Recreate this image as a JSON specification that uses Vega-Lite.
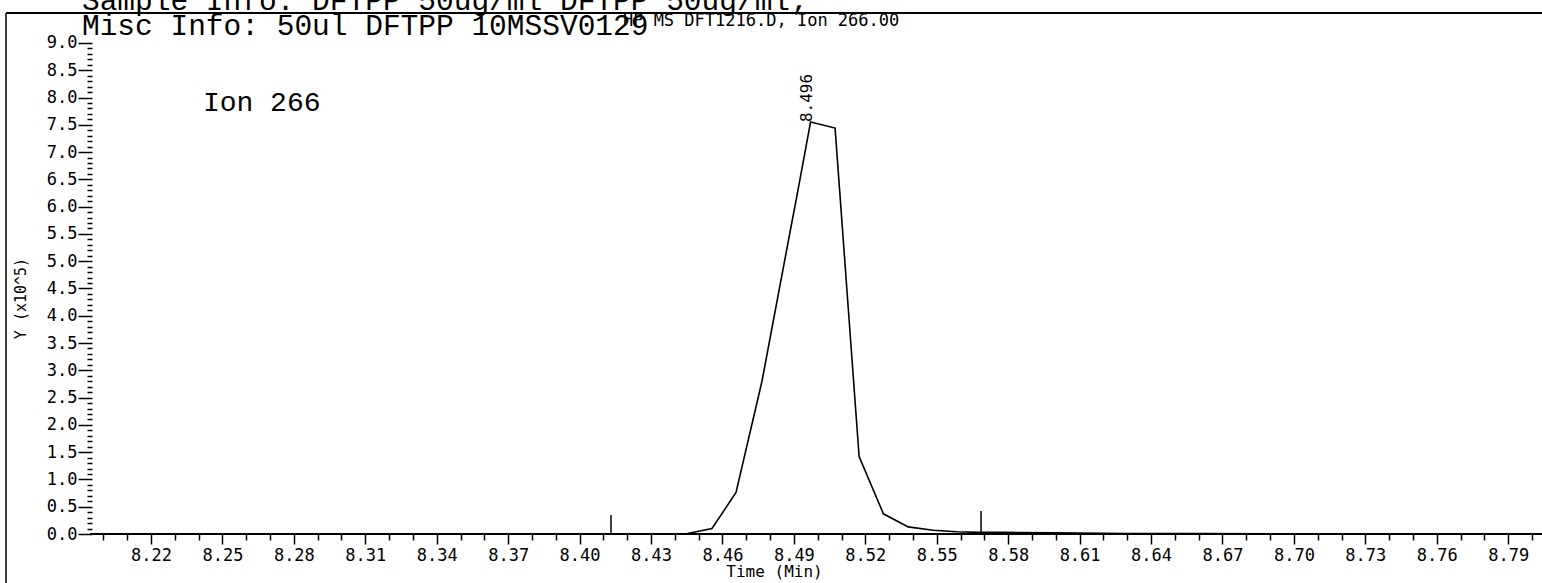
{
  "$schema": "https://vega.github.io/schema/vega-lite/v6.json",
  "width": 1536,
  "height": 570,
  "padding": {"left": 6, "top": 13, "right": 0, "bottom": 0},
  "autosize": {"type": "none"},
  "background": "white",
  "config": {"view": {"stroke": null}, "font": "DejaVu Sans Mono"},
  "datasets": {
    "trace": [
      {"time": 8.197, "abundance": 0.0},
      {"time": 8.228, "abundance": 0.0},
      {"time": 8.259, "abundance": 0.0},
      {"time": 8.290, "abundance": 0.0},
      {"time": 8.321, "abundance": 0.0},
      {"time": 8.352, "abundance": 0.0},
      {"time": 8.383, "abundance": 0.0},
      {"time": 8.404, "abundance": 0.0},
      {"time": 8.4246, "abundance": 0.0},
      {"time": 8.4349, "abundance": 0.0},
      {"time": 8.4453, "abundance": 0.01},
      {"time": 8.4556, "abundance": 0.1},
      {"time": 8.4657, "abundance": 0.76},
      {"time": 8.4766, "abundance": 2.8},
      {"time": 8.4884, "abundance": 5.54},
      {"time": 8.4912, "abundance": 6.18},
      {"time": 8.4970, "abundance": 7.55},
      {"time": 8.5073, "abundance": 7.44},
      {"time": 8.5174, "abundance": 1.42},
      {"time": 8.5276, "abundance": 0.37},
      {"time": 8.5380, "abundance": 0.13},
      {"time": 8.5485, "abundance": 0.07},
      {"time": 8.5583, "abundance": 0.04},
      {"time": 8.5682, "abundance": 0.03},
      {"time": 8.5786, "abundance": 0.03},
      {"time": 8.5993, "abundance": 0.02},
      {"time": 8.630, "abundance": 0.01},
      {"time": 8.661, "abundance": 0.01},
      {"time": 8.692, "abundance": 0.005},
      {"time": 8.723, "abundance": 0.005},
      {"time": 8.754, "abundance": 0.003},
      {"time": 8.785, "abundance": 0.002},
      {"time": 8.8042, "abundance": 0.002}
    ],
    "markers": [
      {"time": 8.4132, "base": 0, "top": 0.35},
      {"time": 8.5686, "base": 0, "top": 0.42}
    ],
    "hlines": [
      {"start": 8.1944, "end": 8.8042, "level": 0},
      {"start": 8.1591, "end": 8.8042, "level": 9.549}
    ],
    "vlines": [
      {"at": 8.1591, "from": -0.898, "to": 9.549}
    ],
    "peaks": [
      {"time": 8.4970, "abundance": 7.55, "label": "8.496"}
    ]
  },
  "layer": [
    {
      "data": {"name": "trace"},
      "mark": {"type": "line", "color": "black", "strokeWidth": 1.6},
      "encoding": {
        "x": {
          "field": "time",
          "type": "quantitative",
          "scale": {"domain": [8.1591, 8.8042], "nice": false, "zero": false},
          "axis": {
            "orient": "bottom",
            "offset": -49,
            "tickCount": 500,
            "values": [8.20,8.21,8.22,8.23,8.24,8.25,8.26,8.27,8.28,8.29,8.30,8.31,8.32,8.33,8.34,8.35,8.36,8.37,8.38,8.39,8.40,8.41,8.42,8.43,8.44,8.45,8.46,8.47,8.48,8.49,8.50,8.51,8.52,8.53,8.54,8.55,8.56,8.57,8.58,8.59,8.60,8.61,8.62,8.63,8.64,8.65,8.66,8.67,8.68,8.69,8.70,8.71,8.72,8.73,8.74,8.75,8.76,8.77,8.78,8.79,8.80],
            "domain": false,
            "grid": false,
            "tickColor": "black",
            "tickWidth": 1.5,
            "tickSize": {"condition": {"test": "round(datum.value*100) % 3 === 0", "value": 10}, "value": 6},
            "labelExpr": "round(datum.value*100) % 3 === 0 ? format(datum.value, '.2f') : ''",
            "labelFont": "DejaVu Sans Mono",
            "labelFontSize": 17,
            "labelColor": "black",
            "labelPadding": 3,
            "labelOverlap": false,
            "labelFlush": false,
            "labelBound": false,
            "title": "Time (Min)",
            "titleFont": "DejaVu Sans Mono",
            "titleFontSize": 16,
            "titleFontWeight": "normal",
            "titleColor": "black",
            "titlePadding": 0
          }
        },
        "y": {
          "field": "abundance",
          "type": "quantitative",
          "scale": {"domain": [-0.898, 9.549], "nice": false, "zero": false},
          "axis": {
            "orient": "left",
            "offset": -86,
            "tickCount": 500,
            "values": [0,0.1,0.2,0.3,0.4,0.5,0.6,0.7,0.8,0.9,1,1.1,1.2,1.3,1.4,1.5,1.6,1.7,1.8,1.9,2,2.1,2.2,2.3,2.4,2.5,2.6,2.7,2.8,2.9,3,3.1,3.2,3.3,3.4,3.5,3.6,3.7,3.8,3.9,4,4.1,4.2,4.3,4.4,4.5,4.6,4.7,4.8,4.9,5,5.1,5.2,5.3,5.4,5.5,5.6,5.7,5.8,5.9,6,6.1,6.2,6.3,6.4,6.5,6.6,6.7,6.8,6.9,7,7.1,7.2,7.3,7.4,7.5,7.6,7.7,7.8,7.9,8,8.1,8.2,8.3,8.4,8.5,8.6,8.7,8.8,8.9,9],
            "domain": false,
            "grid": false,
            "tickColor": "black",
            "tickWidth": 1.5,
            "tickSize": {"condition": {"test": "round(datum.value*10) % 5 === 0", "value": 14}, "value": 5},
            "labelExpr": "round(datum.value*10) % 5 === 0 ? format(datum.value, '.1f') : ''",
            "labelFont": "DejaVu Sans Mono",
            "labelFontSize": 17,
            "labelColor": "black",
            "labelPadding": 1,
            "labelOverlap": false,
            "labelFlush": false,
            "labelBound": false,
            "title": "Y (x10^5)",
            "titleFont": "DejaVu Sans Mono",
            "titleFontSize": 15,
            "titleFontWeight": "normal",
            "titleColor": "black",
            "titlePadding": 18
          }
        }
      }
    },
    {
      "data": {"name": "hlines"},
      "mark": {"type": "rule", "color": "black", "strokeWidth": 1.8},
      "encoding": {
        "x": {"field": "start", "type": "quantitative"},
        "x2": {"field": "end"},
        "y": {"field": "level", "type": "quantitative"}
      }
    },
    {
      "data": {"name": "vlines"},
      "mark": {"type": "rule", "color": "black", "strokeWidth": 1.5},
      "encoding": {
        "x": {"field": "at", "type": "quantitative"},
        "y": {"field": "from", "type": "quantitative"},
        "y2": {"field": "to"}
      }
    },
    {
      "data": {"name": "markers"},
      "mark": {"type": "rule", "color": "black", "strokeWidth": 1.5},
      "encoding": {
        "x": {"field": "time", "type": "quantitative"},
        "y": {"field": "base", "type": "quantitative"},
        "y2": {"field": "top"}
      }
    },
    {
      "data": {"name": "peaks"},
      "mark": {"type": "text", "angle": 270, "align": "left", "baseline": "middle", "dy": -4, "font": "DejaVu Sans Mono", "fontSize": 16, "color": "black"},
      "encoding": {
        "x": {"field": "time", "type": "quantitative"},
        "y": {"field": "abundance", "type": "quantitative"},
        "text": {"field": "label"}
      }
    },
    {
      "data": {"values": [{"note": "Ion 266"}]},
      "mark": {"type": "text", "align": "left", "baseline": "middle", "font": "Liberation Mono", "fontSize": 28, "color": "black"},
      "encoding": {
        "x": {"datum": 8.2418, "type": "quantitative"},
        "y": {"datum": 7.9, "type": "quantitative"},
        "text": {"field": "note"}
      }
    },
    {
      "data": {"values": [{"note": "Sample Info: DFTPP 50ug/ml  DFTPP 50ug/ml;"}]},
      "mark": {"type": "text", "align": "left", "baseline": "alphabetic", "font": "Liberation Mono", "fontSize": 29.5, "color": "black"},
      "encoding": {
        "x": {"datum": 8.191, "type": "quantitative"},
        "y": {"datum": 9.604, "type": "quantitative"},
        "text": {"field": "note"}
      }
    },
    {
      "data": {"values": [{"note": "Misc Info: 50ul DFTPP 10MSSV0129"}]},
      "mark": {"type": "text", "align": "left", "baseline": "alphabetic", "font": "Liberation Mono", "fontSize": 29.5, "color": "black"},
      "encoding": {
        "x": {"datum": 8.191, "type": "quantitative"},
        "y": {"datum": 9.146, "type": "quantitative"},
        "text": {"field": "note"}
      }
    },
    {
      "data": {"values": [{"note": "HP MS DFT1216.D, Ion 266.00"}]},
      "mark": {"type": "text", "align": "left", "baseline": "alphabetic", "font": "DejaVu Sans Mono", "fontSize": 17, "color": "black"},
      "encoding": {
        "x": {"datum": 8.4182, "type": "quantitative"},
        "y": {"datum": 9.31, "type": "quantitative"},
        "text": {"field": "note"}
      }
    }
  ]
}
